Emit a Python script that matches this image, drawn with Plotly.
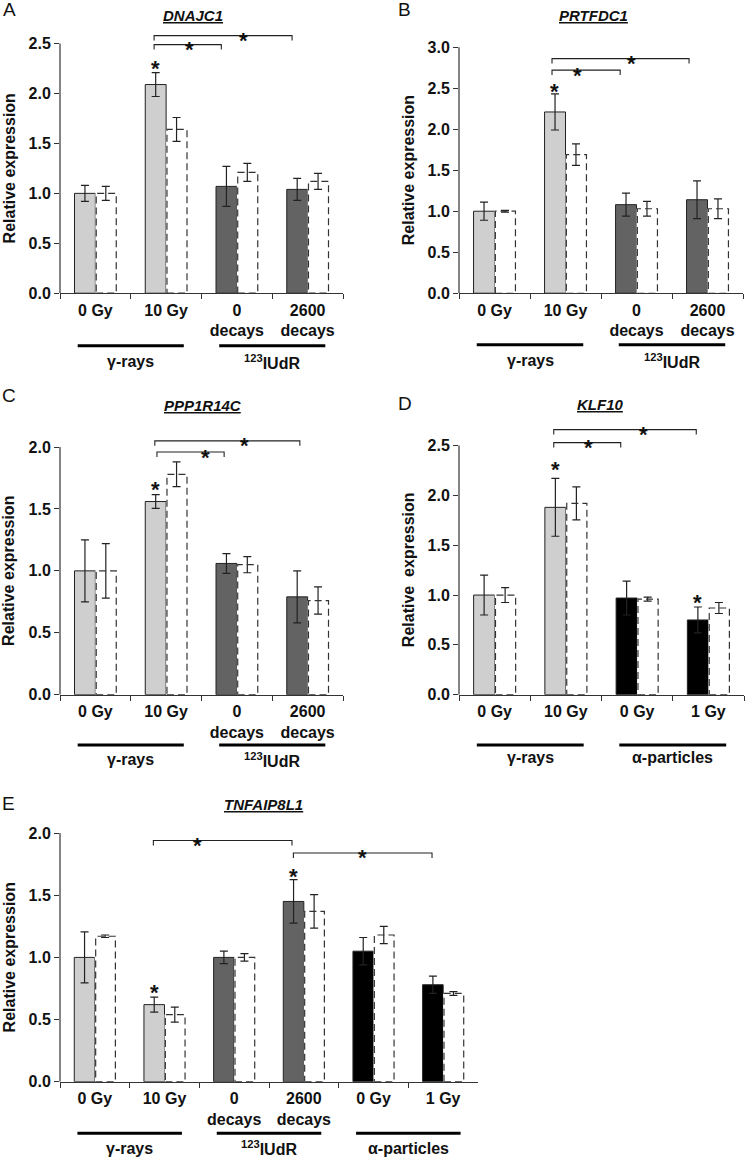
import plotly.graph_objects as go

W, H = 746, 1165
FONT = "Liberation Sans, Arial, sans-serif"

# ---------------- data ----------------
gamma_iudr_cats = ["0 Gy", "10 Gy", "0<br>decays", "2600<br>decays"]
gamma_alpha_cats = ["0 Gy", "10 Gy", "0 Gy\u200b", "1 Gy"]
all_cats = ["0 Gy", "10 Gy", "0<br>decays", "2600<br>decays", "0 Gy\u200b", "1 Gy"]

gamma_iudr_src = ["gamma", "gamma", "iudr", "iudr"]
gamma_alpha_src = ["gamma", "gamma", "alpha", "alpha"]
all_src = ["gamma", "gamma", "iudr", "iudr", "alpha", "alpha"]

# Panel A  DNAJC1
A_solid = [1.00, 2.09, 1.07, 1.04]
A_solid_err = [0.08, 0.12, 0.20, 0.11]
A_dash = [1.00, 1.64, 1.21, 1.12]
A_dash_err = [0.07, 0.12, 0.09, 0.08]

# Panel B  PRTFDC1
B_solid = [1.00, 2.21, 1.08, 1.14]
B_solid_err = [0.11, 0.22, 0.14, 0.23]
B_dash = [1.00, 1.69, 1.03, 1.03]
B_dash_err = [0.01, 0.13, 0.09, 0.12]

# Panel C  PPP1R14C
C_solid = [1.00, 1.56, 1.06, 0.79]
C_solid_err = [0.25, 0.055, 0.08, 0.21]
C_dash = [1.00, 1.78, 1.05, 0.76]
C_dash_err = [0.22, 0.10, 0.065, 0.11]

# Panel D  KLF10
D_solid = [1.00, 1.88, 0.97, 0.75]
D_solid_err = [0.20, 0.29, 0.17, 0.13]
D_dash = [1.00, 1.92, 0.96, 0.87]
D_dash_err = [0.075, 0.165, 0.02, 0.055]

# Panel E  TNFAIP8L1
E_solid = [1.00, 0.62, 1.00, 1.45, 1.05, 0.78]
E_solid_err = [0.205, 0.06, 0.05, 0.175, 0.11, 0.07]
E_dash = [1.17, 0.54, 1.00, 1.37, 1.18, 0.71]
E_dash_err = [0.01, 0.06, 0.03, 0.135, 0.07, 0.015]

# significance brackets: (from x, to x, level, star position along bracket)
A_brackets = [(0.83, 1.78, 2.49, 0.53), (0.83, 2.78, 2.58, 0.65)]
B_brackets = [(0.81, 1.77, 2.72, 0.38), (0.81, 2.74, 2.86, 0.58)]
C_brackets = [(0.87, 1.82, 1.96, 0.73), (0.84, 2.89, 2.05, 0.62)]
D_brackets = [(0.83, 1.77, 2.53, 0.52), (0.83, 2.83, 2.66, 0.63)]
E_brackets = [(0.84, 2.83, 1.94, 0.32), (2.85, 4.84, 1.84, 0.50)]

# single-bar significance stars: (category index, level)
A_stars = [(1, 2.30)]
B_stars = [(1, 2.52)]
C_stars = [(1, 1.70)]
D_stars = [(1, 2.31), (3, 0.98)]
E_stars = [(1, 0.76), (3, 1.69)]

group_names = {"gamma": "γ-rays", "iudr": "<sup>123</sup>IUdR", "alpha": "α-particles"}
colors = {"gamma": "#cfcfcf", "iudr": "#636363", "alpha": "#000000"}

panels = [
    dict(letter="A", gene="DNAJC1", cats=gamma_iudr_cats, src=gamma_iudr_src,
         solid=A_solid, serr=A_solid_err, dash=A_dash, derr=A_dash_err,
         brackets=A_brackets, stars=A_stars, ytitle="Relative expression",
         geo=(60, 343, 294, 100.8, 2.5, 2.7), letter_xy=(9, 8), title_xy=(193, 14),
         gline=347, glabel=363),
    dict(letter="B", gene="PRTFDC1", cats=gamma_iudr_cats, src=gamma_iudr_src,
         solid=B_solid, serr=B_solid_err, dash=B_dash, derr=B_dash_err,
         brackets=B_brackets, stars=B_stars, ytitle="Relative expression",
         geo=(459, 743, 294, 82.8, 3.0, 3.1), letter_xy=(404, 8), title_xy=(593, 14),
         gline=346, glabel=362),
    dict(letter="C", gene="PPP1R14C", cats=gamma_iudr_cats, src=gamma_iudr_src,
         solid=C_solid, serr=C_solid_err, dash=C_dash, derr=C_dash_err,
         brackets=C_brackets, stars=C_stars, ytitle="Relative expression",
         geo=(60, 343, 699.3, 125.0, 2.0, 2.15), letter_xy=(9, 397), title_xy=(203, 407),
         gline=750, glabel=765),
    dict(letter="D", gene="KLF10", cats=gamma_alpha_cats, src=gamma_alpha_src,
         solid=D_solid, serr=D_solid_err, dash=D_dash, derr=D_dash_err,
         brackets=D_brackets, stars=D_stars, ytitle="Relative  expression",
         geo=(459, 744, 699.3, 100.6, 2.5, 2.75), letter_xy=(405, 405), title_xy=(600, 406),
         gline=750, glabel=763),
    dict(letter="E", gene="TNFAIP8L1", cats=all_cats, src=all_src,
         solid=E_solid, serr=E_solid_err, dash=E_dash, derr=E_dash_err,
         brackets=E_brackets, stars=E_stars, ytitle="Relative expression",
         geo=(60, 478, 1090, 125.5, 2.0, 2.05), letter_xy=(8, 809), title_xy=(263, 810),
         gline=1142, glabel=1157),
]


def xp(px):
    return px / W


def yp(py):
    return 1 - py / H


BARGAP = 0.41
HALF = (1 - BARGAP) / 2
STAR = dict(family=FONT, size=22, color="#111", weight="bold")

fig = go.Figure()
shapes = []
annotations = []
layout_axes = {}

for k, p in enumerate(panels):
    n = k + 1
    xa = "x" if n == 1 else f"x{n}"
    ya = "y" if n == 1 else f"y{n}"
    x0px, x1px, y0px, ppu, tmax, ytop = p["geo"]
    ncat = len(p["cats"])
    cw = (x1px - x0px) / ncat

    fig.add_trace(go.Bar(
        x=p["cats"], y=p["solid"], xaxis=xa, yaxis=ya, showlegend=False,
        marker=dict(color=[colors[s] for s in p["src"]], line=dict(color="#222", width=1)),
        error_y=dict(type="data", array=p["serr"], color="#222", thickness=1.2, width=4),
    ))
    fig.add_trace(go.Bar(
        x=p["cats"], y=p["dash"], xaxis=xa, yaxis=ya, showlegend=False,
        marker=dict(color="white", line=dict(width=0)),
        error_y=dict(type="data", array=p["derr"], color="#222", thickness=1.2, width=4),
    ))

    # dashed outlines of the open bars
    for i, v in enumerate(p["dash"]):
        shapes.append(dict(type="rect", xref=xa, yref=ya, x0=i + 0.012, x1=i + HALF,
                           y0=0, y1=v, line=dict(color="#333", width=1.2, dash="7px,4px"),
                           fillcolor="rgba(0,0,0,0)", layer="above"))

    # y axis line only up to last tick
    shapes.append(dict(type="line", xref="paper", yref=ya, x0=xp(x0px), x1=xp(x0px),
                       y0=0, y1=tmax, line=dict(color="#333", width=1.2)))

    # significance brackets
    d = 5.0 / ppu
    for (a, b, lev, frac) in p["brackets"]:
        shapes.append(dict(type="path", xref=xa, yref=ya,
                           path=f"M {a},{lev - d} L {a},{lev} L {b},{lev} L {b},{lev - d}",
                           line=dict(color="#222", width=1.1)))
        annotations.append(dict(xref=xa, yref=ya, x=a + frac * (b - a), y=lev, text="*",
                                showarrow=False, yanchor="middle", yshift=-5, font=STAR))
    for (ci, lev) in p["stars"]:
        annotations.append(dict(xref=xa, yref=ya, x=ci - 0.15, y=lev, text="*",
                                showarrow=False, yanchor="middle", yshift=-5, font=STAR))

    # group lines and labels
    groups = []
    for i, s in enumerate(p["src"]):
        if groups and groups[-1][0] == s:
            groups[-1][2] = i
        else:
            groups.append([s, i, i])
    for s, i0, i1 in groups:
        c = (i0 + i1) / 2
        gx0 = x0px + (c + 0.5 - 0.75) * cw
        gx1 = x0px + (c + 0.5 + 0.75) * cw
        shapes.append(dict(type="line", xref="paper", yref="paper",
                           x0=xp(gx0), x1=xp(gx1), y0=yp(p["gline"]), y1=yp(p["gline"]),
                           line=dict(color="#000", width=3)))
        annotations.append(dict(xref="paper", yref="paper", x=xp(x0px + (c + 0.5) * cw),
                                y=yp(p["glabel"]), text=group_names[s], showarrow=False,
                                xanchor="center", yanchor="middle",
                                font=dict(family=FONT, size=16, color="#111", weight="bold")))

    # panel letter, gene title, y title
    lx, ly = p["letter_xy"]
    annotations.append(dict(xref="paper", yref="paper", x=xp(lx), y=yp(ly), text=p["letter"],
                            showarrow=False, xanchor="center", yanchor="middle",
                            font=dict(family=FONT, size=19, color="#111")))
    tx, ty = p["title_xy"]
    annotations.append(dict(xref="paper", yref="paper", x=xp(tx), y=yp(ty),
                            text=f"<i><u>{p['gene']}</u></i>", showarrow=False,
                            xanchor="center", yanchor="middle",
                            font=dict(family=FONT, size=15, color="#111", weight="bold")))
    annotations.append(dict(xref="paper", yref="paper", x=xp(x0px - 51),
                            y=yp(y0px - tmax * ppu / 2), text=p["ytitle"], textangle=-90,
                            showarrow=False, xanchor="center", yanchor="middle",
                            font=dict(family=FONT, size=16, color="#111", weight="bold")))

    tickvals = [i * 0.5 for i in range(int(round(tmax / 0.5)) + 1)]
    layout_axes["xaxis" if n == 1 else f"xaxis{n}"] = dict(
        domain=[xp(x0px), xp(x1px)], anchor=ya, type="category",
        categoryorder="array", categoryarray=p["cats"],
        range=[-0.5, ncat - 0.5], tickson="boundaries", ticks="outside", ticklen=5,
        tickcolor="#333", showline=True, linecolor="#333", linewidth=1.2,
        showgrid=False, ticklabelstandoff=2,
        tickfont=dict(family=FONT, size=16, color="#111", weight="bold"), fixedrange=True)
    layout_axes["yaxis" if n == 1 else f"yaxis{n}"] = dict(
        domain=[yp(y0px), yp(y0px - ytop * ppu)], anchor=xa, range=[0, ytop],
        tickmode="array", tickvals=tickvals, ticktext=[f"{v:.1f}" for v in tickvals],
        ticks="outside", ticklen=5, tickcolor="#333", showline=False, showgrid=False,
        zeroline=False, tickfont=dict(family=FONT, size=16, color="#111", weight="bold"),
        fixedrange=True)

fig.update_layout(
    width=W, height=H, autosize=False,
    margin=dict(l=0, r=0, t=0, b=0),
    paper_bgcolor="white", plot_bgcolor="white",
    barmode="group", bargap=BARGAP, bargroupgap=0,
    shapes=shapes, annotations=annotations,
    font=dict(family=FONT, color="#111"),
    hovermode=False,
    **layout_axes,
)

fig.write_html("out.html", config={"displayModeBar": False, "staticPlot": True},
               post_script="document.body.style.margin='0';")
